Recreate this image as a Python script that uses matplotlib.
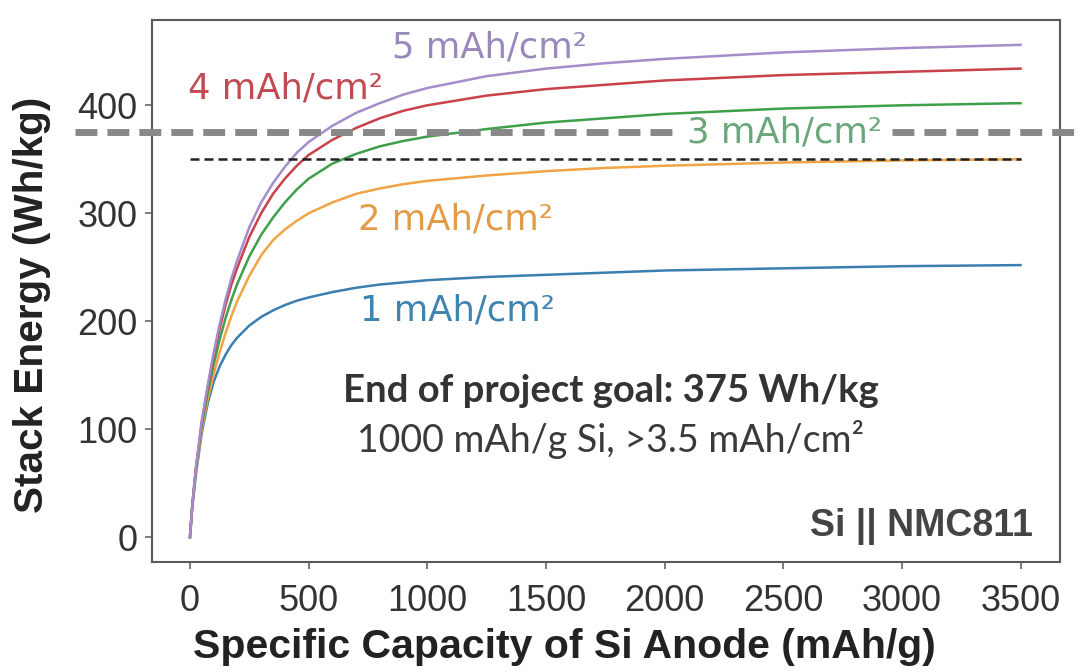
import matplotlib
matplotlib.use("Agg")
import matplotlib.pyplot as plt
from matplotlib.lines import Line2D
from matplotlib.transforms import blended_transform_factory

plt.rcParams["font.family"] = ["Liberation Sans", "DejaVu Sans"]

# ---- data ----
capacity = [0, 10, 25, 50, 75, 100, 125, 150, 175, 200, 250, 300, 350, 400,
            450, 500, 600, 700, 800, 900, 1000, 1250, 1500, 1750, 2000,
            2500, 3000, 3500]
e_5 = [0, 30, 64, 108, 141, 171, 197, 220, 240, 257, 287, 310, 328, 343,
       356, 366, 381, 393, 402, 410, 416, 427, 434, 439, 443, 449, 453, 456]
e_4 = [0, 30, 64, 107, 139, 168, 193, 215, 234, 250, 278, 300, 318, 332,
       344, 354, 368, 379, 388, 395, 400, 409, 415, 419, 423, 428, 431, 434]
e_3 = [0, 29, 62, 104, 134, 160, 183, 203, 220, 235, 260, 280, 296, 310,
       322, 332, 346, 355, 362, 367, 371, 378, 384, 388, 392, 397, 400, 402]
e_2 = [0, 29, 61, 100, 128, 151, 171, 189, 205, 219, 242, 261, 275, 285,
       293, 300, 310, 318, 323, 327, 330, 335, 339, 342, 344, 347, 349, 350]
e_1 = [0, 28, 58, 97, 124, 144, 158, 169, 178, 185, 196, 204, 210, 215,
       219, 222, 227, 231, 234, 236, 238, 241, 243, 245, 247, 249, 251, 252]
series_labels = ["1 mAh/cm²", "2 mAh/cm²", "3 mAh/cm²", "4 mAh/cm²", "5 mAh/cm²"]
goal_energy = 375
ref_energy = 350
x_ticks = [0, 500, 1000, 1500, 2000, 2500, 3000, 3500]
y_ticks = [0, 100, 200, 300, 400]

line_colors = ["#3b7fb0", "#f0a445", "#3fa04b", "#c9414a", "#a58dca"]
text_colors = ["#3f84b0", "#e39c45", "#6aa77b", "#c24a52", "#9a88bb"]

fig = plt.figure(figsize=(10.84, 6.72), dpi=100)
ax = fig.add_axes([0.1402, 0.1637, 0.8376, 0.8065])

series = [e_1, e_2, e_3, e_4, e_5]
for vals, c in zip(series, line_colors):
    ax.plot(capacity, vals, color=c, lw=1.8, zorder=2)

# reference 350 line (black dashed)
ax.plot([capacity[0], capacity[-1]], [ref_energy, ref_energy], color="#222222",
        lw=1.8, dashes=(3.6, 2.0), zorder=3)

# goal 375 line spanning the figure (gray thick dashed), broken by the label
trans = blended_transform_factory(fig.transFigure, ax.transData)
for x0, x1 in [(0.069, 0.620), (0.823, 1.0)]:
    seg = Line2D([x0, x1], [goal_energy, goal_energy], transform=trans,
                 color="#888888", lw=5.0, dashes=(3.15, 1.45), clip_on=False,
                 zorder=4, dash_capstyle="butt")
    ax.add_line(seg)

ax.set_xlim(-160, 3666)
ax.set_ylim(-23, 479)
ax.set_xticks(x_ticks)
ax.set_yticks(y_ticks)
for s in ax.spines.values():
    s.set_color("#5a5a5a")
    s.set_linewidth(1.5)
ax.tick_params(axis="both", length=5, width=1.2, color="#666666",
               labelsize=26, labelcolor="#333333")
ax.tick_params(axis="y", pad=5.5)
ax.tick_params(axis="x", pad=11)

ax.set_xlabel("Specific Capacity of Si Anode (mAh/g)", fontsize=29.5,
              fontweight="bold", color="#222222")
ax.set_ylabel("Stack Energy (Wh/kg)", fontsize=29.2, fontweight="bold",
              color="#222222")
ax.xaxis.label.set_va("center")
ax.yaxis.label.set_va("center")
ax.xaxis.set_label_coords(0.4537, -0.157)
ax.yaxis.set_label_coords(-0.132, 0.474)

# series labels
lab_pos = [(716, 210), (708, 294), (2094, 375), (-8, 416), (851, 454)]
for i, (txt, (lx, ly)) in enumerate(zip(series_labels, lab_pos)):
    ax.text(lx, ly, txt, color=text_colors[i], fontsize=25.5,
            family="DejaVu Sans", ha="left", va="center", zorder=5)

ax.text(1774, 125, "End of project goal: 375 Wh/kg", fontsize=27.5,
        fontweight="bold", family="Lato", color="#333333",
        ha="center", va="baseline", zorder=5)
ax.text(1774, 79, "1000 mAh/g Si, >3.5 mAh/cm²", fontsize=27,
        family="Lato", color="#3a3a3a", ha="center", va="baseline", zorder=5)
ax.text(3550, 10, "Si || NMC811", fontsize=27, fontweight="bold",
        color="#444444", ha="right", va="center", zorder=5)

fig.savefig("out.png", dpi=100, facecolor="white")
